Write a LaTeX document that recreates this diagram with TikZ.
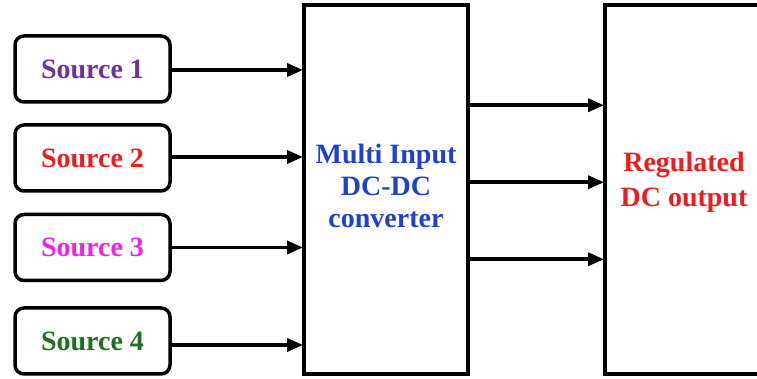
\documentclass[tikz,border=0pt]{standalone}
\usepackage{fontspec}
\setmainfont{Liberation Serif}
\usetikzlibrary{arrows.meta,calc}
\definecolor{srcpurple}{HTML}{7030A0}
\definecolor{srcred}{HTML}{EE1C1C}
\definecolor{srcmag}{HTML}{F020F0}
\definecolor{srcgreen}{HTML}{1E701E}
\definecolor{convblue}{HTML}{2040D0}
\begin{document}
\begin{tikzpicture}[x=1pt,y=1pt,
  every node/.style={font=\fontsize{28}{32}\selectfont\bfseries, inner sep=0pt, align=center},
  srcbox/.style={draw, line width=3.5pt, rounded corners=9pt, minimum width=155pt, minimum height=66pt},
  bigbox/.style={draw, line width=4pt, minimum height=369.5pt},
  arr/.style={line width=3.5pt, -{Triangle[length=16pt,width=13pt]}, shorten >=-1pt}
]
\useasboundingbox (0,0) rectangle (757,379);
\clip (0,0) rectangle (757,379);
\fill[white] (0,0) rectangle (757,379);

\node[srcbox, text=srcpurple] (s1) at (92.5,310) {Source 1};
\node[srcbox, text=srcred] (s2) at (92.5,221) {Source 2};
\node[srcbox, text=srcmag] (s3) at (92.5,131.5) {Source 3};
\node[srcbox, text=srcgreen] (s4) at (92.5,38) {Source 4};

\node[bigbox, minimum width=164pt,
  label={[text=convblue, yshift=4pt, align=center]center:Multi Input\\DC-DC\\converter}] (conv) at (386,189.25) {};
\node[bigbox, minimum width=158pt,
  label={[text=srcred, yshift=7pt, align=center, font=\fontsize{28}{35}\selectfont\bfseries]center:Regulated\\DC output}] (out) at (684,189.25) {};

\draw[arr] ([yshift=-1pt]s1.east) -- ([yshift=-1pt]s1.east -| conv.west);
\draw[arr] ([yshift=1pt]s2.east) -- ([yshift=1pt]s2.east -| conv.west);
\draw[arr] ([yshift=0pt]s3.east) -- ([yshift=0pt]s3.east -| conv.west);
\draw[arr] ([yshift=-4pt]s4.east) -- ([yshift=-4pt]s4.east -| conv.west);

\draw[arr] ([yshift=84.5pt]conv.east) -- ([yshift=84.5pt]out.west);
\draw[arr] ([yshift=7.5pt]conv.east) -- ([yshift=7.5pt]out.west);
\draw[arr] ([yshift=-69.5pt]conv.east) -- ([yshift=-69.5pt]out.west);
\end{tikzpicture}
\end{document}
